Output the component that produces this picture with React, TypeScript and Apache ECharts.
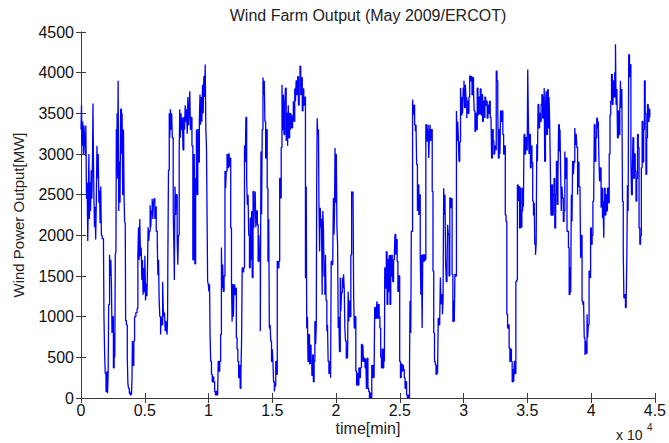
import { useEffect, useRef } from "react";
import * as echarts from "echarts";

// [time in minutes, wind power output in MW]
const days1to6: [number, number][] = [
  [0, 3300], [40, 3600], [80, 3100], [130, 3400], [180, 3000], [230, 3350], [280, 3200], [330, 2980], [380, 3350], [430, 2450],
  [480, 2650], [530, 1930], [570, 2400], [620, 3000], [660, 2200], [710, 2650], [750, 2300], [800, 2800], [850, 2450], [900, 2900],
  [940, 3620], [980, 2900], [1020, 2400], [1060, 2100], [1100, 2350], [1150, 1950], [1200, 2400], [1250, 3100], [1300, 2700], [1350, 3000],
  [1400, 2400], [1450, 2550], [1500, 2150], [1550, 2600], [1600, 2000], [1660, 1960], [1760, 1960], [1800, 1000], [1850, 570], [1900, 300],
  [1960, 80], [2020, 320], [2080, 60], [2130, 300], [2170, 1150], [2240, 1760], [2290, 1500], [2340, 1700], [2390, 1350], [2430, 800],
  [2480, 1000], [2540, 370], [2600, 800], [2650, 500], [2690, 1760], [2740, 1800], [2770, 3300], [2830, 3500], [2870, 2700], [2910, 3900],
  [2960, 2300], [3000, 2900], [3060, 2400], [3110, 3550], [3170, 3000], [3220, 3500], [3270, 2500], [3330, 3300], [3380, 2450], [3420, 2170],
  [3470, 2150], [3500, 950], [3560, 900], [3630, 490], [3680, 170], [3730, 120], [3790, 60], [3850, 40], [3910, 80], [3960, 40],
  [4000, 250], [4030, 700], [4080, 400], [4140, 700], [4200, 1000], [4300, 1050], [4400, 1100], [4460, 1760], [4510, 2100], [4560, 1700],
  [4610, 2200], [4660, 1750], [4720, 1850], [4770, 1450], [4820, 1700], [4870, 1270], [4920, 1600], [4970, 1300], [5010, 1750], [5060, 1200],
  [5110, 1400], [5170, 1250], [5220, 1650], [5260, 2100], [5310, 1930], [5360, 2050], [5420, 2370], [5470, 2100], [5520, 2300], [5580, 2450],
  [5630, 2200], [5680, 2400], [5730, 2450], [5790, 2200], [5840, 2350], [5900, 2050], [5980, 1920], [6030, 1510], [6080, 1700], [6130, 1200],
  [6180, 1000], [6240, 780], [6290, 1000], [6340, 900], [6400, 1430], [6450, 1100], [6500, 1000], [6550, 1050], [6600, 820], [6650, 950],
  [6700, 850], [6750, 780], [6790, 1000], [6810, 1700], [6860, 2800], [6920, 3500], [6960, 3200], [7010, 3550], [7060, 3300], [7110, 3500],
  [7160, 3200], [7230, 2300], [7280, 1900], [7320, 1450], [7370, 2600], [7420, 2250], [7470, 2500], [7540, 1950], [7590, 1640], [7640, 2000],
  [7700, 3000], [7740, 3550], [7790, 3200], [7840, 3500], [7890, 3300], [7950, 3450], [8000, 3050], [8060, 3450], [8120, 3300], [8170, 3600],
  [8220, 3400], [8280, 3550], [8330, 3250], [8380, 3700], [8430, 3350], [8480, 3550], [8530, 3770], [8580, 3300], [8640, 3450], [8700, 3100],
  [8770, 1700], [8830, 2700], [8880, 3000], [8930, 1650], [8990, 2700], [9050, 3300], [9100, 2500], [9160, 3300],
];

const days7to12: [number, number][] = [
  [9220, 2900], [9280, 3400], [9330, 3730], [9380, 3360], [9430, 3700], [9480, 3400], [9530, 3850], [9580, 3500], [9630, 3950], [9690, 3700],
  [9740, 4100], [9790, 3300], [9840, 3075], [9880, 2350], [9930, 1430], [9980, 1400], [10030, 1310], [10080, 1400], [10120, 780], [10170, 450],
  [10230, 290], [10290, 200], [10350, 260], [10410, 200], [10480, 80], [10540, 40], [10600, 80], [10660, 40], [10720, 100], [10760, 450],
  [10820, 330], [10880, 450], [10950, 780], [11010, 1850], [11060, 1350], [11110, 1640], [11160, 1310], [11220, 1500], [11290, 2790], [11340, 2580],
  [11390, 2790], [11450, 3000], [11500, 2830], [11560, 3000], [11620, 2850], [11680, 2950], [11740, 2090], [11800, 1430], [11850, 940], [11900, 1400],
  [11950, 1000], [12000, 1390], [12060, 1270], [12120, 1350], [12180, 740], [12240, 600], [12300, 450], [12360, 250], [12420, 400], [12480, 120],
  [12540, 300], [12590, 700], [12640, 1600], [12700, 1550], [12760, 1600], [12820, 3100], [12880, 2900], [12930, 3450], [12990, 2700], [13040, 2380],
  [13100, 2500], [13150, 2000], [13210, 1600], [13270, 2210], [13330, 1700], [13380, 2300], [13430, 1480], [13490, 2540], [13550, 2090], [13600, 2400],
  [13660, 2540], [13710, 2100], [13760, 2300], [13830, 2130], [13890, 1680], [13950, 2000], [14000, 1700], [14060, 820], [14110, 3030], [14160, 2260],
  [14210, 3300], [14270, 3940], [14320, 3730], [14370, 3900], [14420, 3400], [14480, 2950], [14540, 3300], [14600, 2580], [14660, 1680], [14720, 2200],
  [14770, 860], [14830, 900], [14880, 700], [14940, 450], [15000, 600], [15050, 450], [15100, 200], [15160, 80], [15210, 150], [15270, 450],
  [15330, 290], [15390, 1680], [15450, 1600], [15520, 1680], [15580, 2700], [15640, 2460], [15700, 3080], [15760, 3850], [15810, 3300], [15870, 3730],
  [15920, 3240], [15980, 3600], [16030, 3810], [16090, 3160], [16140, 3500], [16200, 3100], [16250, 3600], [16300, 3200], [16360, 3500], [16420, 3300],
  [16470, 3480], [16530, 3320], [16590, 3450], [16650, 3650], [16700, 3400], [16760, 3800], [16820, 3650], [16870, 3900], [16930, 3730], [16990, 3950],
  [17050, 3600], [17110, 3850], [17170, 4080], [17230, 3730], [17290, 3940], [17350, 3530], [17410, 3800], [17470, 3600], [17530, 3700], [17600, 1480],
  [17660, 2600], [17700, 860], [17760, 1000], [17800, 450], [17860, 780], [17920, 420], [17980, 650],
];

const days13to18: [number, number][] = [
  [18040, 450], [18100, 280], [18160, 530], [18220, 200], [18280, 450], [18340, 940], [18400, 660], [18450, 900], [18480, 2620], [18520, 3440],
  [18570, 3240], [18620, 3300], [18660, 2380], [18710, 1800], [18760, 2340], [18810, 2100], [18860, 2200], [18910, 1270], [18960, 2300], [19010, 2090],
  [19060, 1500], [19120, 1270], [19170, 1760], [19220, 1200], [19280, 820], [19330, 900], [19380, 450], [19440, 300], [19500, 450], [19570, 250],
  [19620, 1680], [19680, 1640], [19740, 1680], [19790, 2460], [19840, 2010], [19880, 2300], [19920, 3075], [19970, 2400], [20020, 3000], [20070, 2090],
  [20120, 1890], [20170, 860], [20220, 1000], [20270, 570], [20330, 1480], [20380, 1070], [20430, 1300], [20490, 1480], [20540, 1350], [20590, 1520],
  [20640, 1350], [20690, 860], [20740, 700], [20800, 490], [20860, 600], [20900, 490], [20950, 1310], [21000, 940], [21050, 1200], [21100, 1000],
  [21160, 1760], [21220, 2540], [21270, 2500], [21330, 2540], [21380, 1230], [21430, 860], [21490, 1000], [21550, 330], [21610, 160], [21670, 300],
  [21730, 160], [21790, 370], [21850, 250], [21910, 370], [21990, 660], [22050, 450], [22100, 650], [22150, 450], [22210, 490], [22270, 370],
  [22330, 480], [22380, 120], [22440, 490], [22500, 120], [22560, 80], [22620, 0], [22680, 60], [22740, 0], [22800, 400], [22860, 250],
  [22920, 400], [22980, 250], [23030, 1110], [23090, 980], [23160, 1100], [23210, 1190], [23260, 980], [23320, 1150], [23380, 1000], [23440, 860],
  [23500, 500], [23560, 370], [23620, 600], [23680, 370], [23740, 610], [23790, 450], [23820, 1600], [23880, 1350], [23940, 1800], [24000, 1150],
  [24060, 1700], [24120, 1300], [24170, 1750], [24230, 1150], [24290, 1760], [24340, 1500], [24400, 1760], [24450, 1430], [24510, 1700], [24570, 1760],
  [24620, 2010], [24680, 1760], [24730, 1950], [24790, 1680], [24850, 1310], [24920, 1500], [24990, 450], [25050, 250], [25110, 420], [25170, 330],
  [25230, 400], [25290, 350], [25350, 250], [25410, 120], [25470, 200], [25530, 40], [25590, 0], [25650, 40], [25700, 0], [25760, 410],
  [25800, 1190], [25860, 800], [25900, 2050], [25950, 2050], [26000, 3670], [26050, 3480], [26100, 3600], [26160, 3360], [26220, 3280], [26270, 3360],
  [26320, 2870], [26380, 2300], [26430, 2620], [26490, 2250], [26540, 2500], [26600, 1760], [26650, 1270], [26700, 1760], [26750, 860], [26800, 1760],
  [26860, 1680], [26920, 1760], [26980, 1700],
];

const days19to25: [number, number][] = [
  [27040, 3360], [27100, 3160], [27160, 3300], [27220, 3360], [27270, 2950], [27320, 3240], [27370, 3360], [27420, 3160], [27470, 3300], [27540, 2540],
  [27600, 1560], [27660, 800], [27720, 450], [27780, 410], [27840, 290], [27900, 400], [27960, 300], [28010, 980], [28070, 900], [28130, 980],
  [28180, 1480], [28230, 1150], [28280, 1270], [28340, 1030], [28390, 1200], [28440, 2580], [28490, 2250], [28540, 2500], [28590, 1680], [28640, 1430],
  [28700, 1600], [28750, 2130], [28800, 2010], [28860, 1500], [28920, 2460], [28980, 2340], [29040, 2450], [29100, 1520], [29160, 940], [29220, 1200],
  [29270, 940], [29320, 1520], [29380, 1500], [29440, 3530], [29490, 3160], [29540, 3400], [29590, 3200], [29640, 2910], [29700, 3150], [29760, 3810],
  [29810, 3480], [29870, 3700], [29920, 3500], [29970, 3810], [30030, 3900], [30080, 3570], [30140, 3850], [30190, 3690], [30250, 3440], [30300, 3650],
  [30360, 3500], [30420, 3700], [30480, 3960], [30540, 3900], [30600, 3950], [30660, 3730], [30720, 3940], [30780, 3800], [30830, 3530], [30890, 3280],
  [30950, 3500], [31010, 3300], [31070, 3810], [31130, 3480], [31190, 3700], [31250, 3500], [31310, 3800], [31370, 3480], [31430, 3730], [31490, 3400],
  [31550, 3650], [31610, 3450], [31670, 3700], [31730, 3600], [31790, 3650], [31850, 3440], [31910, 3600], [31970, 3500], [32030, 3650], [32090, 3450],
  [32150, 3440], [32200, 2950], [32260, 3300], [32320, 3160], [32380, 3000], [32440, 3100], [32500, 3050], [32560, 4020], [32620, 3900], [32680, 3530],
  [32730, 2950], [32790, 3300], [32850, 3000], [32900, 3530], [32960, 3400], [33020, 3530], [33080, 3240], [33140, 3000], [33200, 3100], [33270, 2250],
  [33330, 2170], [33390, 1030], [33450, 860], [33510, 900], [33570, 615], [33630, 450], [33690, 600], [33750, 450], [33810, 200], [33870, 350],
  [33930, 200], [33980, 450], [34040, 300], [34100, 1430], [34160, 1450], [34220, 2620], [34280, 2420], [34330, 2600], [34390, 2090], [34450, 2580],
  [34510, 2100], [34570, 2300], [34630, 2580], [34690, 2350], [34740, 3240], [34800, 3000], [34860, 3200], [34920, 3050], [34990, 3100], [35030, 4040],
  [35080, 3400], [35130, 3000], [35180, 3240], [35240, 2830], [35300, 3100], [35360, 2900], [35420, 2420], [35480, 2250], [35540, 2400], [35580, 1890],
  [35640, 1760], [35690, 1900], [35740, 3120], [35790, 2910], [35840, 3610], [35900, 3320], [35960, 3500], [36020, 3400], [36080, 3610], [36140, 3730],
  [36200, 3440], [36260, 3700], [36320, 3810],
];

const days26to31: [number, number][] = [
  [36360, 2910], [36420, 3570], [36470, 3770], [36520, 3240], [36580, 3790], [36640, 3320], [36700, 3700], [36750, 3400], [36800, 2870], [36850, 2250],
  [36910, 2620], [36970, 2250], [37030, 2500], [37090, 2700], [37150, 2090], [37220, 2500], [37280, 2910], [37340, 2380], [37400, 2700], [37450, 3360],
  [37510, 3030], [37560, 3300], [37610, 2790], [37660, 2300], [37710, 2600], [37760, 2460], [37820, 2170], [37880, 2300], [37940, 3030], [37990, 2700],
  [38050, 2950], [38110, 2050], [38160, 2050], [38220, 1850], [38280, 1270], [38340, 1600], [38400, 1300], [38450, 2500], [38500, 2170], [38550, 2910],
  [38610, 2750], [38660, 2900], [38720, 3320], [38770, 3120], [38830, 3250], [38880, 3080], [38940, 2500], [38990, 2900], [39050, 2600], [39130, 2500],
  [39180, 1720], [39230, 2000], [39290, 1190], [39350, 1150], [39410, 1190], [39460, 740], [39520, 530], [39570, 700], [39620, 550], [39680, 1030],
  [39730, 740], [39780, 900], [39840, 1560], [39900, 1480], [39960, 2090], [40020, 1890], [40080, 2000], [40140, 2420], [40200, 2420], [40250, 3360],
  [40310, 2910], [40370, 3200], [40440, 3440], [40500, 3320], [40560, 3400], [40610, 2950], [40660, 2670], [40720, 2830], [40780, 2340], [40830, 2580],
  [40890, 2210], [40940, 2420], [40990, 1970], [41040, 2580], [41100, 2250], [41160, 2500], [41220, 2300], [41280, 2580], [41350, 2400], [41420, 3000],
  [41480, 3480], [41540, 3650], [41600, 3980], [41660, 3610], [41720, 3900], [41780, 3700], [41850, 4000], [41910, 4350], [41960, 3610], [42020, 3800],
  [42070, 3200], [42130, 3530], [42190, 3240], [42250, 3500], [42300, 3900], [42350, 3570], [42410, 3800], [42460, 2420], [42520, 1800], [42570, 1230],
  [42630, 1270], [42690, 1110], [42750, 1200], [42800, 1720], [42850, 2620], [42900, 2300], [42950, 4220], [43010, 3940], [43060, 4100], [43120, 2910],
  [43170, 2500], [43230, 2800], [43280, 3200], [43340, 2700], [43400, 3000], [43460, 2790], [43520, 2420], [43580, 2700], [43640, 3240], [43700, 3080],
  [43760, 2090], [43820, 1890], [43880, 2000], [43940, 2830], [44000, 3400], [44060, 2900], [44120, 3300], [44180, 3900], [44240, 3500], [44300, 2750],
  [44360, 3200], [44420, 3610], [44480, 3400], [44540, 3550], [44600, 3450],
];

const X_MAX = 45000;
const X_STEP = 5000;
const Y_MAX = 4500;
const Y_STEP = 500;

const FONT = "'Liberation Sans', Arial, sans-serif";
const AXIS_COLOR = "#3a3a3a";

export default function App() {
  const ref = useRef<HTMLDivElement>(null);

  useEffect(() => {
    if (!ref.current) return;
    const chart = echarts.init(ref.current, null, { renderer: "svg" });
    const data = [...days1to6, ...days7to12, ...days13to18, ...days19to25, ...days26to31];

    const frameAxis = {
      type: "value" as const,
      axisLine: { show: true, lineStyle: { color: AXIS_COLOR, width: 1 } },
      axisTick: { show: true, inside: true, length: 5, lineStyle: { color: AXIS_COLOR } },
      splitLine: { show: false },
    };

    chart.setOption({
      animation: false,
      backgroundColor: "#ffffff",
      grid: { left: 81, right: 13, top: 32, bottom: 45, containLabel: false },
      xAxis: [
        {
          ...frameAxis,
          min: 0,
          max: X_MAX,
          interval: X_STEP,
          position: "bottom",
          axisLabel: {
            color: "#111",
            fontSize: 16,
            fontFamily: FONT,
            margin: 4,
            formatter: (v: number) => (v === 0 ? "0" : String(v / 10000)),
          },
        },
        {
          ...frameAxis,
          min: 0,
          max: X_MAX,
          interval: X_STEP,
          position: "top",
          axisLabel: { show: false },
        },
      ],
      yAxis: [
        {
          ...frameAxis,
          min: 0,
          max: Y_MAX,
          interval: Y_STEP,
          position: "left",
          axisLabel: {
            color: "#111",
            fontSize: 16,
            fontFamily: FONT,
            margin: 7,
            formatter: (v: number) => String(v),
          },
        },
        {
          ...frameAxis,
          min: 0,
          max: Y_MAX,
          interval: Y_STEP,
          position: "right",
          axisLabel: { show: false },
        },
      ],
      series: [
        {
          type: "line",
          xAxisIndex: 0,
          yAxisIndex: 0,
          data,
          step: "end",
          showSymbol: false,
          symbol: "none",
          lineStyle: { color: "#0000ff", width: 1.3 },
        },
      ],
      graphic: [
        {
          type: "text",
          x: 368,
          y: 15,
          style: {
            text: "Wind Farm Output (May 2009/ERCOT)",
            font: `16px ${FONT}`,
            fill: "#222",
            textAlign: "center",
            textVerticalAlign: "middle",
          },
        },
        {
          type: "text",
          x: 18,
          y: 215,
          rotation: Math.PI / 2,
          style: {
            text: "Wind Power Output[MW]",
            font: `15px ${FONT}`,
            fill: "#222",
            textAlign: "center",
            textVerticalAlign: "middle",
          },
        },
        {
          type: "text",
          x: 368,
          y: 428,
          style: {
            text: "time[min]",
            font: `16px ${FONT}`,
            fill: "#222",
            textAlign: "center",
            textVerticalAlign: "middle",
          },
        },
        {
          type: "text",
          x: 616,
          y: 435,
          style: {
            text: "x 10",
            font: `14px ${FONT}`,
            fill: "#222",
            textAlign: "left",
            textVerticalAlign: "middle",
          },
        },
        {
          type: "text",
          x: 647,
          y: 427,
          style: {
            text: "4",
            font: `10px ${FONT}`,
            fill: "#222",
            textAlign: "left",
            textVerticalAlign: "middle",
          },
        },
      ],
    });

    return () => chart.dispose();
  }, []);

  return (
    <div
      ref={ref}
      style={{ position: "fixed", left: 0, top: 0, width: 669, height: 443 }}
    />
  );
}
